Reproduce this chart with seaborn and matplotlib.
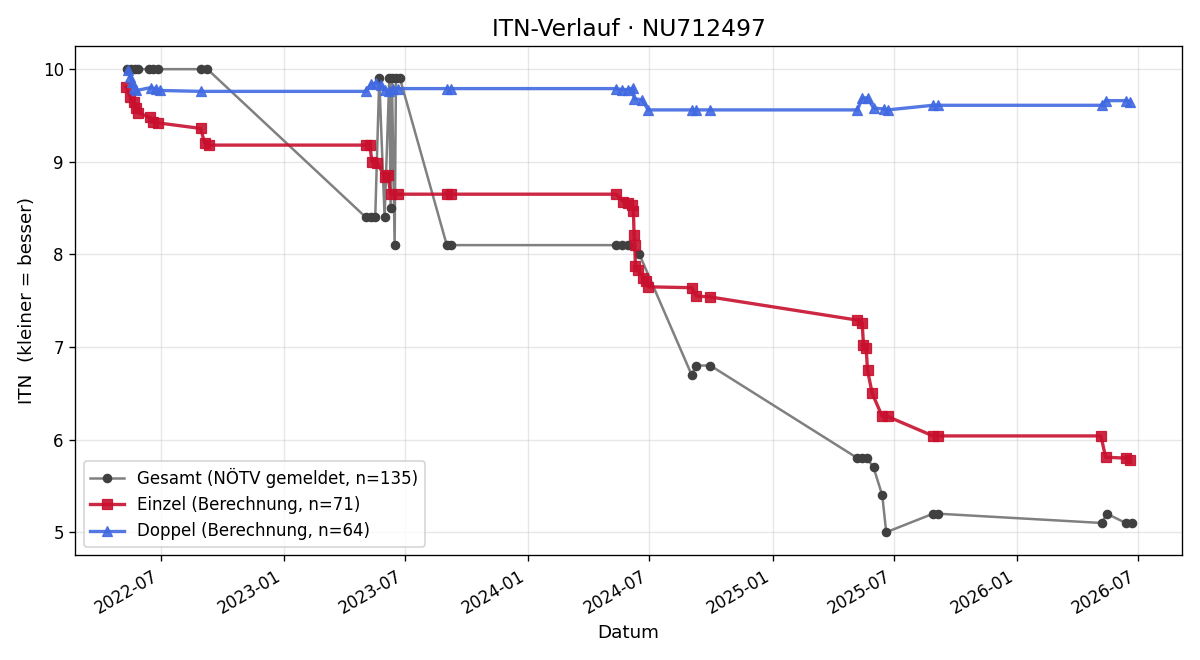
import matplotlib
matplotlib.use("Agg")
import matplotlib.pyplot as plt
import matplotlib.dates as mdates
import seaborn as sns
import pandas as pd

# Gesamt (NÖTV gemeldet)
gesamt_dates = [
    "2022-05-12", "2022-05-18", "2022-05-24", "2022-05-29", "2022-06-14", "2022-06-20",
    "2022-06-27", "2022-08-30", "2022-09-09", "2023-05-04", "2023-05-12", "2023-05-18",
    "2023-05-24", "2023-06-01", "2023-06-08", "2023-06-10", "2023-06-12", "2023-06-16",
    "2023-06-18", "2023-06-24", "2023-09-02", "2023-09-09", "2024-05-12", "2024-05-21",
    "2024-05-30", "2024-06-16", "2024-09-02", "2024-09-09", "2024-09-30", "2025-05-08",
    "2025-05-15", "2025-05-22", "2025-06-01", "2025-06-14", "2025-06-20", "2025-08-29",
    "2025-09-06", "2026-05-08", "2026-05-16", "2026-06-13", "2026-06-22",
]
gesamt_itn = [
    10.0, 10.0, 10.0, 10.0, 10.0, 10.0,
    10.0, 10.0, 10.0, 8.4, 8.4, 8.4,
    9.9, 8.4, 9.9, 8.5, 9.9, 8.1,
    9.9, 9.9, 8.1, 8.1, 8.1, 8.1,
    8.1, 8.0, 6.7, 6.8, 6.8, 5.8,
    5.8, 5.8, 5.7, 5.4, 5.0, 5.2,
    5.2, 5.1, 5.2, 5.1, 5.1,
]

# Einzel (Berechnung)
einzel_dates = [
    "2022-05-10", "2022-05-17", "2022-05-23", "2022-05-25", "2022-05-28", "2022-06-15",
    "2022-06-19", "2022-06-27", "2022-08-30", "2022-09-05", "2022-09-11", "2023-05-04",
    "2023-05-10", "2023-05-13", "2023-05-21", "2023-06-01", "2023-06-06", "2023-06-10",
    "2023-06-21", "2023-09-02", "2023-09-09", "2024-05-12", "2024-05-23", "2024-05-30",
    "2024-06-05", "2024-06-07", "2024-06-08", "2024-06-09", "2024-06-10", "2024-06-14",
    "2024-06-22", "2024-06-26", "2024-06-29", "2024-09-02", "2024-09-09", "2024-09-30",
    "2025-05-08", "2025-05-15", "2025-05-17", "2025-05-21", "2025-05-23", "2025-05-30",
    "2025-06-14", "2025-06-22", "2025-08-29", "2025-09-06", "2026-05-07", "2026-05-14",
    "2026-06-13", "2026-06-20",
]
einzel_itn = [
    9.81, 9.70, 9.65, 9.58, 9.53, 9.48,
    9.43, 9.42, 9.36, 9.20, 9.18, 9.18,
    9.18, 9.00, 8.99, 8.84, 8.86, 8.65,
    8.65, 8.65, 8.65, 8.65, 8.57, 8.55,
    8.53, 8.47, 8.21, 8.10, 7.88, 7.83,
    7.75, 7.71, 7.65, 7.64, 7.55, 7.54,
    7.29, 7.26, 7.02, 6.99, 6.75, 6.50,
    6.25, 6.25, 6.04, 6.04, 6.04, 5.81,
    5.80, 5.78,
]

# Doppel (Berechnung)
doppel_dates = [
    "2022-05-13", "2022-05-17", "2022-05-20", "2022-05-23", "2022-05-26", "2022-06-16",
    "2022-06-24", "2022-06-30", "2022-08-30", "2023-05-04", "2023-05-12", "2023-05-19",
    "2023-05-26", "2023-06-01", "2023-06-08", "2023-06-14", "2023-06-21", "2023-09-02",
    "2023-09-09", "2024-05-12", "2024-05-21", "2024-05-30", "2024-06-07", "2024-06-08",
    "2024-06-20", "2024-06-29", "2024-09-02", "2024-09-09", "2024-09-30", "2025-05-08",
    "2025-05-15", "2025-05-23", "2025-06-01", "2025-06-16", "2025-06-22", "2025-08-29",
    "2025-09-06", "2026-05-08", "2026-05-14", "2026-06-13", "2026-06-20",
]
doppel_itn = [
    9.99, 9.91, 9.86, 9.80, 9.77, 9.80,
    9.79, 9.77, 9.76, 9.76, 9.84, 9.85,
    9.83, 9.78, 9.76, 9.79, 9.79, 9.79,
    9.79, 9.79, 9.78, 9.78, 9.80, 9.68,
    9.67, 9.56, 9.56, 9.56, 9.56, 9.56,
    9.69, 9.69, 9.58, 9.57, 9.56, 9.61,
    9.61, 9.61, 9.66, 9.66, 9.65,
]

fig, ax = plt.subplots(figsize=(10, 5.5), dpi=120)

sns.lineplot(x=pd.to_datetime(gesamt_dates), y=gesamt_itn, ax=ax, sort=False,
             estimator=None, color="#808080", linewidth=1.5, marker="o",
             markersize=5, markerfacecolor="#404040", markeredgecolor="#404040",
             label="Gesamt (NÖTV gemeldet, n=135)")
sns.lineplot(x=pd.to_datetime(einzel_dates), y=einzel_itn, ax=ax, sort=False,
             estimator=None, color="#c8102e", alpha=0.9, linewidth=2, marker="s",
             markersize=6, markeredgecolor="#c8102e",
             label="Einzel (Berechnung, n=71)")
sns.lineplot(x=pd.to_datetime(doppel_dates), y=doppel_itn, ax=ax, sort=False,
             estimator=None, color="#4169e1", alpha=0.9, linewidth=2, marker="^",
             markersize=6, markeredgecolor="#4169e1",
             label="Doppel (Berechnung, n=64)")

ax.set_title("ITN-Verlauf · NU712497", fontsize=14)
ax.set_xlabel("Datum", fontsize=11)
ax.set_ylabel("ITN  (kleiner = besser)", fontsize=11)
ax.grid(True, alpha=0.3)
ax.xaxis.set_major_locator(mdates.MonthLocator(bymonth=[1, 7]))
ax.xaxis.set_major_formatter(mdates.DateFormatter("%Y-%m"))
fig.autofmt_xdate()
ax.legend(loc="lower left", fontsize=10)

fig.tight_layout()
fig.savefig("out.png")
